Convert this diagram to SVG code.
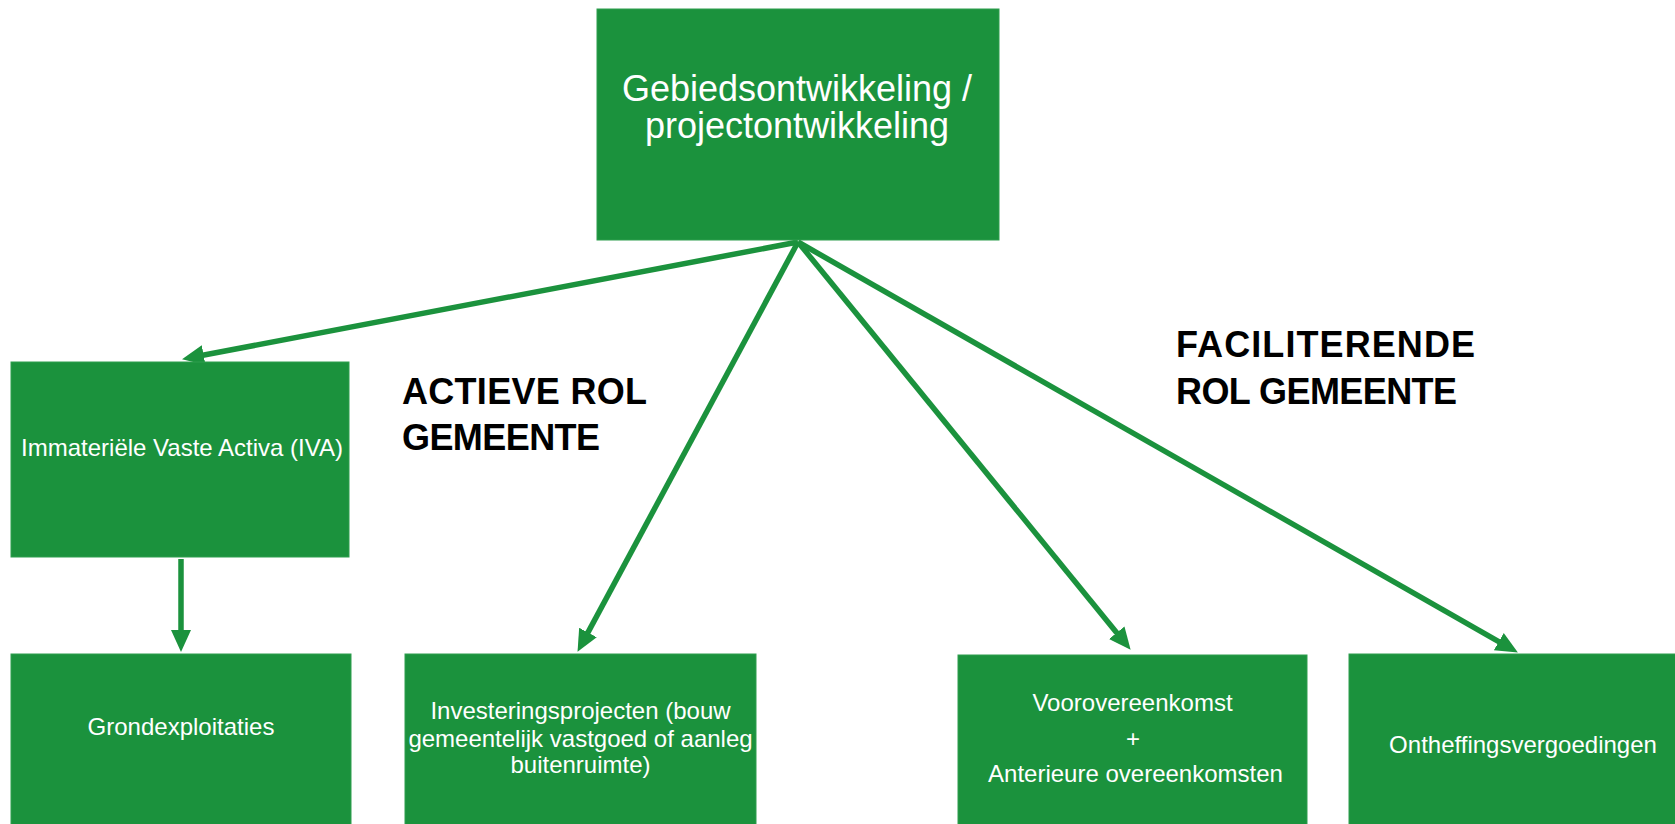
<svg xmlns="http://www.w3.org/2000/svg" width="1675" height="824" viewBox="0 0 1675 824">
<style>
.box{fill:#1b923d;stroke:#2f9e4f;stroke-width:1}
.t{font-family:"Liberation Sans",Arial,sans-serif;fill:#ffffff;text-anchor:middle}
.lbl{font-family:"Liberation Sans",Arial,sans-serif;font-weight:bold;fill:#000000;font-size:36px}
.conn{stroke:#1b923d;stroke-width:5.5;fill:none;marker-end:url(#ah)}
</style>
<defs>
<marker id="ah" markerUnits="userSpaceOnUse" viewBox="0 -12 22 24" refX="9" refY="0" markerWidth="22" markerHeight="24" orient="auto">
<path d="M0,-10 L22,0 L0,10 z" fill="#1b923d"/>
</marker>
</defs>
<rect width="1675" height="824" fill="#ffffff"/>
<g id="connectors">
<line class="conn" x1="798" y1="242" x2="194.8" y2="356.8"/>
<line class="conn" x1="798" y1="242" x2="583.7" y2="640.4"/>
<line class="conn" x1="798" y1="242" x2="1122.4" y2="639.7"/>
<line class="conn" x1="798" y1="242" x2="1506.6" y2="646.1"/>
<line class="conn" x1="181" y1="559" x2="181" y2="639"/>
</g>
<g id="n-top">
<rect class="box" x="597" y="9" width="402" height="231"/>
<text class="t" x="797" y="101" font-size="36">Gebiedsontwikkeling /</text>
<text class="t" x="797" y="138" font-size="36">projectontwikkeling</text>
</g>
<g id="n-iva">
<rect class="box" x="11" y="362" width="338" height="195"/>
<text class="t" x="182" y="456" font-size="24">Immateriële Vaste Activa (IVA)</text>
</g>
<g id="n-grond">
<rect class="box" x="11" y="654" width="340" height="180"/>
<text class="t" x="181" y="735" font-size="24">Grondexploitaties</text>
</g>
<g id="n-invest">
<rect class="box" x="405" y="654" width="351" height="180"/>
<text class="t" x="580.5" y="719" font-size="24">Investeringsprojecten (bouw</text>
<text class="t" x="580.5" y="747" font-size="24">gemeentelijk vastgoed of aanleg</text>
<text class="t" x="580.5" y="773" font-size="24">buitenruimte)</text>
</g>
<g id="n-voor">
<rect class="box" x="958" y="655" width="349" height="180"/>
<text class="t" x="1132.5" y="711" font-size="24">Voorovereenkomst</text>
<text class="t" x="1133" y="747" font-size="24">+</text>
<text class="t" x="1135.5" y="782" font-size="24">Anterieure overeenkomsten</text>
</g>
<g id="n-onth">
<rect class="box" x="1349" y="654" width="340" height="180"/>
<text class="t" x="1523" y="753" font-size="24">Ontheffingsvergoedingen</text>
</g>
<g id="label-actief">
<text class="lbl" x="402" y="404" textLength="245">ACTIEVE ROL</text>
<text class="lbl" x="402" y="450" textLength="198">GEMEENTE</text>
</g>
<g id="label-facil">
<text class="lbl" x="1176" y="357" textLength="299">FACILITERENDE</text>
<text class="lbl" x="1176" y="404" textLength="281">ROL GEMEENTE</text>
</g>
</svg>
